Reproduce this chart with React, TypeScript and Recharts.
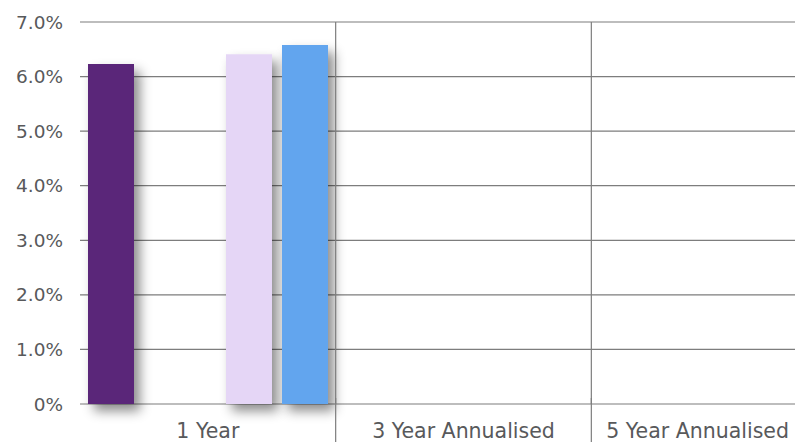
import { Bar, BarChart, CartesianGrid, ReferenceLine, XAxis, YAxis } from "recharts";

const CATEGORIES = ["1 Year", "3 Year Annualised", "5 Year Annualised"];
const FUND = [6.23, null, null];
const SECTOR = [null, null, null];
const BENCHMARK = [6.41, null, null];
const INDEX = [6.58, null, null];
const Y_TICKS = [0, 1, 2, 3, 4, 5, 6, 7];

const VISIBLE_W = 795;
const CHART_W = 847;
const CHART_H = 442;
const GRID = "#7d7d7d";
const TEXT = "#58595b";
const FONT = "'DejaVu Sans', sans-serif";

const data = CATEGORIES.map((name, i) => ({
  name,
  fund: FUND[i],
  sector: SECTOR[i],
  benchmark: BENCHMARK[i],
  index: INDEX[i],
}));

function CategoryTick(props: any) {
  const { x, y, payload, index } = props;
  const half = payload?.offset ?? (CHART_W - 80) / CATEGORIES.length / 2;
  const left = x - half;
  const last = index === CATEGORIES.length - 1;
  const anchor = last && x + 90 > VISIBLE_W ? "end" : "middle";
  const tx = anchor === "end" ? VISIBLE_W - 6 : x;
  return (
    <g>
      {index > 0 && (
        <line x1={left} x2={left} y1={y - 14} y2={CHART_H} stroke={GRID} strokeWidth={1.2} />
      )}
      <text x={tx} y={y} dy={26} textAnchor={anchor} fill={TEXT} fontSize={20.5} fontFamily={FONT}>
        {payload.value}
      </text>
    </g>
  );
}

export default function App() {
  return (
    <div
      style={{
        position: "absolute",
        left: 0,
        top: 0,
        width: VISIBLE_W,
        height: CHART_H,
        overflow: "hidden",
        background: "#fff",
      }}
    >
      <BarChart
        width={CHART_W}
        height={CHART_H}
        data={data}
        barGap={10}
        margin={{ top: 22, right: 0, bottom: 0, left: 0 }}
      >
        <defs>
          <filter id="barShadow" x="-50%" y="-20%" width="220%" height="150%">
            <feDropShadow dx={6} dy={7} stdDeviation={6} floodColor="#000" floodOpacity={0.45} />
          </filter>
        </defs>
        <CartesianGrid vertical={false} stroke={GRID} strokeWidth={1.2} />
        <XAxis
          dataKey="name"
          axisLine={false}
          tickLine={false}
          interval={0}
          height={38}
          tick={<CategoryTick />}
        />
        <YAxis
          width={80}
          domain={[0, 7]}
          ticks={Y_TICKS}
          interval={0}
          axisLine={false}
          tickLine={false}
          tickMargin={11}
          tick={{ fill: TEXT, fontSize: 18.5, fontFamily: FONT }}
          tickFormatter={(v: number) => (v === 0 ? "0%" : `${v.toFixed(1)}%`)}
        />
        <ReferenceLine x="3 Year Annualised" position="start" stroke={GRID} strokeWidth={1.2} />
        <ReferenceLine x="5 Year Annualised" position="start" stroke={GRID} strokeWidth={1.2} />
        <Bar dataKey="fund" barSize={46} fill="#5a2779" filter="url(#barShadow)" isAnimationActive={false} />
        <Bar dataKey="sector" barSize={72} fill="#c9c9c9" isAnimationActive={false} />
        <Bar dataKey="benchmark" barSize={46} fill="#e5d6f6" filter="url(#barShadow)" isAnimationActive={false} />
        <Bar dataKey="index" barSize={46} fill="#62a5ee" filter="url(#barShadow)" isAnimationActive={false} />
      </BarChart>
    </div>
  );
}
